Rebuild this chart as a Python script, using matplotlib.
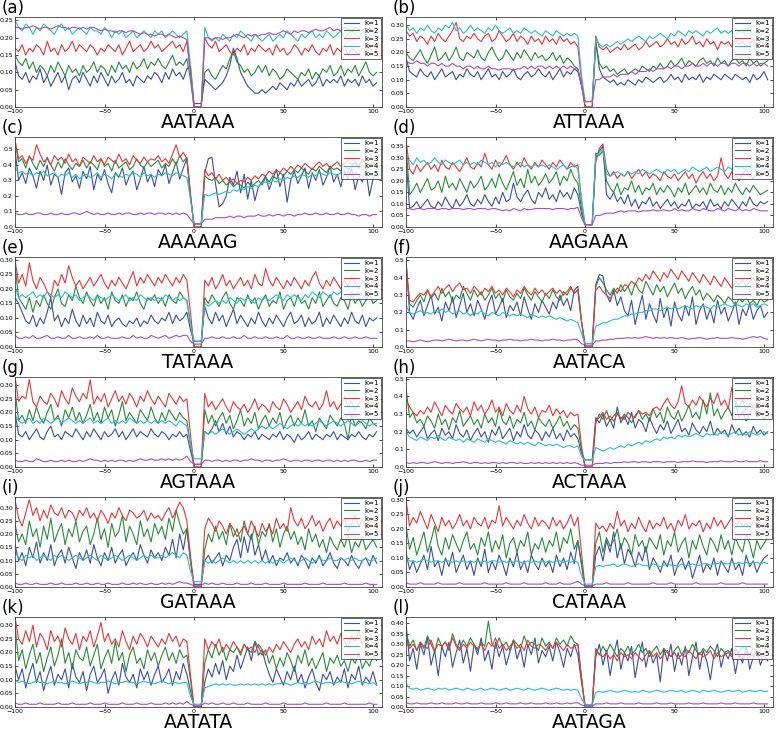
import numpy as np
import matplotlib.pyplot as plt

# values in hundredths, positions -100..102 step 2 (motif starts at 0)
labels = ['(a)', '(b)', '(c)', '(d)', '(e)', '(f)', '(g)', '(h)', '(i)', '(j)', '(k)', '(l)']
motifs = ['AATAAA', 'ATTAAA', 'AAAAAG', 'AAGAAA', 'TATAAA', 'AATACA',
          'AGTAAA', 'ACTAAA', 'GATAAA', 'CATAAA', 'AATATA', 'AATAGA']
ymax = [0.26, 0.33, 0.58, 0.39, 0.31, 0.52, 0.33, 0.51, 0.34, 0.31, 0.33, 0.43]
ystep = [0.05, 0.05, 0.1, 0.05, 0.05, 0.1, 0.05, 0.1, 0.05, 0.05, 0.05, 0.05]
ytop = [0.25, 0.30, 0.5, 0.35, 0.30, 0.5, 0.30, 0.5, 0.30, 0.30, 0.30, 0.40]

a1 = [13, 9, 8, 10, 7, 9, 8, 11, 7, 9, 6, 8, 10, 7, 9, 5, 8, 9, 7, 10,
      8, 6, 9, 7, 10, 8, 6, 9, 7, 8, 10, 7, 8, 6, 9, 8, 7, 9, 8, 10,
      9, 7, 10, 8, 11, 9, 10, 8, 11, 12,
      1, 1, 1, 8, 7, 6, 5, 6, 7, 9, 12, 17, 14, 10, 8, 6, 5, 4, 4, 5,
      4, 5, 6, 5, 7, 6, 5, 7, 6, 8, 6, 7, 8, 6, 7, 9, 6, 8, 7, 8,
      7, 9, 6, 8, 7, 8, 6, 9, 7, 8, 6, 7]
a2 = [15, 13, 12, 14, 11, 13, 10, 12, 11, 9, 12, 10, 13, 11, 9, 12, 10, 11, 9, 12,
      10, 11, 13, 10, 12, 11, 9, 12, 10, 13, 11, 12, 10, 13, 11, 12, 14, 11, 13, 12,
      14, 12, 11, 13, 15, 12, 13, 12, 14, 8,
      0, 0, 0, 10, 11, 9, 8, 10, 12, 11, 14, 16, 13, 12, 10, 11, 9, 10, 12, 10,
      12, 9, 11, 10, 8, 9, 11, 10, 9, 8, 10, 9, 11, 8, 10, 9, 11, 10, 12, 9,
      10, 12, 9, 11, 10, 12, 9, 11, 13, 10, 9, 10]
a3 = [17, 16, 18, 15, 17, 16, 18, 17, 15, 19, 16, 17, 15, 18, 16, 17, 19, 16, 18, 17,
      16, 18, 17, 15, 17, 16, 18, 17, 16, 18, 15, 17, 19, 16, 17, 18, 16, 17, 19, 17,
      18, 16, 17, 18, 19, 17, 18, 16, 19, 10,
      0, 0, 0, 20, 18, 17, 19, 16, 17, 18, 16, 15, 17, 16, 18, 15, 17, 16, 18, 17,
      16, 17, 15, 18, 16, 17, 15, 16, 18, 17, 15, 17, 16, 18, 16, 15, 17, 16, 18, 15,
      17, 16, 18, 15, 17, 16, 15, 17, 16, 18, 15, 17]
a4 = [25, 23, 22, 24, 23, 21, 23, 22, 24, 23, 22, 21, 23, 24, 22, 23, 21, 22, 23, 22,
      21, 23, 22, 22, 21, 23, 22, 20, 22, 21, 22, 20, 21, 22, 20, 21, 22, 21, 20, 22,
      21, 22, 20, 21, 22, 21, 20, 21, 22, 12,
      0, 0, 0, 23, 20, 19, 20, 19, 21, 20, 19, 21, 20, 22, 21, 20, 19, 21, 20, 19,
      20, 21, 19, 20, 21, 20, 22, 21, 20, 19, 21, 20, 21, 22, 20, 21, 20, 22, 21, 20,
      21, 22, 20, 21, 22, 21, 20, 22, 21, 20, 21, 22]
a5 = [23, 23, 22.5, 23, 23, 23.5, 23, 22.5, 23, 23, 22.5, 23, 23.5, 23, 23, 22.5, 23, 23, 22.5, 23,
      22.5, 23, 23, 22.5, 22, 22.5, 22, 22, 21.5, 22, 22, 21.5, 22, 22, 21.5, 21, 21.5, 21, 21, 20.5,
      21, 21, 20.5, 21, 20.5, 20, 20.5, 20, 19.5, 10,
      0, 0, 0, 20, 20, 19.5, 20, 20, 19.5, 20, 20, 20.5, 21, 20.5, 20, 21, 20.5, 21, 20.5, 21,
      21, 21.5, 21, 21, 21.5, 22, 21.5, 21, 22, 21.5, 22, 22, 21.5, 22, 22.5, 22, 22, 22.5, 23, 22,
      22.5, 22, 23, 22.5, 22, 23, 22.5, 22, 23, 22.5, 22, 23]

b1 = [18, 13, 12, 11, 14, 12, 11, 13, 10, 12, 14, 11, 12, 13, 10, 12, 11, 14, 12, 11,
      13, 10, 12, 14, 11, 12, 10, 13, 11, 12, 14, 11, 10, 12, 13, 11, 12, 14, 12, 11,
      13, 10, 12, 14, 11, 13, 12, 14, 13, 8,
      2, 2, 2, 24, 14, 11, 10, 9, 10, 8, 9, 8, 10, 9, 8, 10, 9, 11, 10, 9,
      10, 11, 9, 10, 12, 10, 11, 9, 12, 10, 11, 10, 12, 9, 11, 10, 12, 11, 10, 12,
      11, 10, 12, 11, 10, 11, 9, 12, 10, 11, 13, 10]
b2 = [20, 18, 17, 19, 21, 18, 16, 19, 22, 17, 18, 20, 17, 19, 22, 18, 17, 20, 19, 18,
      21, 18, 17, 20, 22, 19, 17, 18, 21, 19, 17, 20, 18, 21, 19, 17, 20, 18, 19, 17,
      18, 20, 17, 19, 16, 18, 17, 15, 14, 8,
      0, 0, 0, 24, 16, 14, 15, 13, 14, 12, 13, 14, 12, 13, 14, 13, 15, 14, 13, 15,
      14, 16, 14, 15, 17, 15, 16, 18, 15, 17, 16, 15, 17, 18, 16, 17, 15, 18, 16, 17,
      15, 17, 18, 16, 17, 15, 18, 16, 17, 15, 16, 17]
b3 = [28, 26, 27, 24, 26, 25, 23, 26, 24, 27, 25, 24, 26, 28, 31, 25, 24, 26, 25, 27,
      25, 24, 26, 27, 24, 25, 28, 26, 24, 25, 27, 24, 26, 25, 23, 26, 24, 25, 23, 26,
      24, 25, 23, 26, 24, 25, 23, 24, 22, 10,
      0, 0, 0, 26, 22, 21, 22, 20, 21, 22, 21, 23, 21, 22, 23, 21, 22, 24, 22, 23,
      24, 22, 23, 25, 23, 24, 22, 25, 23, 24, 26, 23, 24, 22, 25, 23, 24, 21, 24, 23,
      24, 22, 25, 23, 24, 22, 23, 25, 22, 24, 23, 24]
b4 = [30, 28, 29, 27, 29, 28, 30, 28, 27, 29, 28, 30, 29, 31, 28, 29, 27, 28, 30, 28,
      29, 28, 27, 29, 28, 30, 28, 27, 28, 29, 27, 28, 27, 29, 28, 27, 28, 27, 26, 28,
      27, 26, 28, 27, 26, 27, 26, 27, 26, 12,
      2, 2, 2, 25, 23, 22, 23, 22, 23, 24, 23, 24, 25, 24, 25, 26, 25, 24, 26, 25,
      26, 27, 26, 25, 27, 26, 28, 27, 26, 28, 27, 28, 27, 26, 28, 27, 28, 29, 27, 28,
      27, 28, 26, 28, 27, 29, 28, 27, 28, 26, 28, 27]
b5 = [17, 16, 16, 17, 16, 16, 15, 16, 16, 15, 16, 15, 15, 16, 15, 15, 14, 15, 15, 14,
      15, 14, 14, 15, 14, 14, 13.5, 14, 14, 14, 13.5, 14, 14, 15, 14, 15, 14, 15, 15, 14,
      15, 14, 15, 14, 15, 14, 15, 14, 14, 8,
      2, 2, 2, 10, 10, 11, 11, 11, 12, 11, 12, 12, 12, 13, 12, 13, 13, 13, 14, 13,
      14, 14, 14, 15, 14, 15, 15, 14, 15, 15, 16, 15, 15, 16, 15, 16, 16, 15, 16, 16,
      15, 16, 16, 15, 16, 16, 15, 16, 15, 16, 16, 15]

c1 = [50, 30, 35, 28, 38, 33, 25, 36, 30, 40, 27, 34, 32, 21, 35, 38, 29, 33, 25, 36,
      31, 39, 24, 34, 30, 37, 28, 22, 35, 32, 38, 27, 33, 36, 24, 31, 39, 29, 34, 26,
      37, 33, 40, 28, 35, 42, 31, 38, 44, 20,
      2, 2, 2, 35, 44, 45, 28, 13, 15, 20, 32, 27, 36, 22, 34, 18, 30, 17, 26, 29,
      33, 24, 31, 37, 26, 34, 16, 30, 36, 28, 33, 38, 25, 35, 30, 37, 27, 32, 39, 29,
      34, 26, 36, 31, 38, 24, 33, 29, 37, 20, 31, 35]
c2 = [55, 42, 44, 38, 46, 41, 37, 43, 39, 45, 40, 36, 42, 38, 44, 40, 37, 41, 39, 43,
      38, 42, 40, 37, 44, 39, 41, 36, 43, 38, 40, 42, 37, 39, 44, 40, 38, 42, 39, 41,
      43, 38, 41, 39, 44, 40, 46, 42, 45, 20,
      0, 0, 0, 33, 31, 30, 32, 28, 30, 27, 29, 26, 28, 27, 25, 29, 26, 28, 30, 27,
      32, 29, 33, 31, 35, 33, 36, 34, 37, 35, 38, 36, 34, 38, 36, 39, 37, 35, 39, 37,
      38, 36, 40, 37, 39, 41, 38, 40, 37, 39, 41, 38]
c3 = [56, 44, 46, 41, 45, 43, 53, 47, 42, 44, 40, 46, 43, 45, 41, 47, 42, 44, 39, 45,
      43, 41, 46, 42, 44, 40, 45, 43, 41, 47, 42, 44, 40, 46, 43, 41, 45, 42, 44, 43,
      46, 42, 44, 41, 47, 53, 45, 48, 44, 22,
      0, 0, 0, 37, 33, 35, 31, 34, 30, 32, 29, 31, 28, 30, 29, 32, 30, 33, 31, 34,
      33, 36, 34, 37, 35, 38, 36, 39, 37, 40, 38, 41, 39, 37, 40, 42, 39, 41, 38, 40,
      42, 39, 41, 43, 40, 42, 39, 44, 41, 40, 42, 39]
c4 = [38, 35, 36, 34, 35, 33, 35, 34, 36, 33, 34, 35, 32, 34, 33, 35, 32, 34, 31, 33,
      34, 32, 33, 35, 32, 34, 33, 31, 34, 33, 32, 34, 33, 35, 34, 32, 35, 33, 34, 32,
      34, 33, 35, 34, 33, 35, 34, 33, 32, 18,
      2, 2, 2, 21, 20, 21, 22, 21, 22, 23, 22, 24, 23, 25, 24, 26, 25, 27, 26, 28,
      29, 28, 30, 29, 31, 30, 32, 31, 33, 32, 34, 33, 32, 34, 33, 35, 34, 33, 35, 34,
      33, 35, 34, 36, 33, 35, 34, 33, 35, 34, 33, 34]
c5 = [9, 8, 8, 9, 8, 8, 9, 9, 8, 8, 9, 8, 8, 9, 8, 8, 9, 9, 8, 9,
      10, 9, 8, 9, 8, 8, 9, 8, 8, 9, 8, 9, 9, 8, 8, 9, 8, 9, 9, 8,
      9, 9, 8, 9, 8, 9, 8, 9, 8, 5,
      2, 2, 2, 5, 5, 5, 6, 6, 6, 6, 7, 6, 7, 7, 6, 7, 7, 7, 8, 7,
      7, 8, 7, 8, 8, 7, 8, 8, 7, 8, 8, 9, 8, 8, 9, 8, 8, 9, 8, 8,
      9, 8, 8, 9, 8, 8, 7, 8, 8, 7, 8, 8]

d1 = [30, 8, 9, 11, 8, 10, 12, 9, 8, 11, 9, 13, 10, 8, 12, 9, 11, 14, 10, 9,
      12, 10, 14, 11, 9, 13, 10, 15, 11, 12, 19, 13, 11, 14, 16, 12, 10, 15, 13, 17,
      12, 14, 11, 16, 13, 15, 12, 17, 14, 6,
      1, 1, 1, 30, 33, 35, 14, 12, 15, 11, 13, 10, 14, 9, 12, 8, 11, 10, 13, 9,
      11, 8, 10, 12, 9, 11, 8, 10, 9, 12, 8, 10, 9, 11, 8, 12, 9, 10, 8, 11,
      9, 12, 10, 8, 11, 9, 13, 10, 9, 11, 10, 11]
d2 = [36, 14, 16, 19, 15, 18, 21, 16, 17, 20, 15, 22, 17, 19, 16, 21, 18, 15, 20, 17,
      19, 22, 16, 18, 21, 17, 23, 19, 16, 20, 24, 18, 21, 17, 25, 19, 22, 18, 20, 23,
      19, 21, 24, 18, 22, 20, 25, 21, 19, 8,
      1, 1, 1, 32, 31, 33, 20, 17, 15, 19, 14, 17, 16, 20, 15, 18, 14, 17, 16, 19,
      14, 17, 15, 18, 16, 13, 17, 15, 19, 14, 16, 18, 15, 17, 14, 19, 16, 15, 18, 14,
      17, 15, 19, 16, 14, 17, 15, 18, 16, 14, 15, 16]
d3 = [38, 25, 23, 27, 24, 26, 28, 25, 27, 24, 29, 26, 25, 28, 26, 24, 27, 30, 26, 25,
      28, 26, 32, 27, 25, 29, 26, 28, 31, 27, 25, 28, 26, 30, 27, 25, 28, 26, 29, 27,
      25, 28, 26, 29, 27, 25, 28, 26, 27, 12,
      1, 1, 1, 28, 34, 36, 25, 22, 24, 21, 23, 22, 24, 21, 23, 25, 22, 24, 21, 23,
      22, 20, 24, 22, 21, 23, 20, 22, 24, 21, 23, 19, 22, 24, 21, 23, 20, 22, 30, 23,
      21, 24, 22, 20, 23, 25, 22, 21, 23, 22, 24, 22]
d4 = [28, 29, 27, 30, 28, 29, 27, 28, 30, 28, 27, 29, 28, 27, 28, 29, 27, 28, 27, 28,
      27, 29, 28, 27, 28, 26, 28, 27, 28, 27, 26, 27, 28, 26, 27, 26, 27, 26, 27, 26,
      27, 26, 25, 26, 27, 25, 26, 27, 25, 12,
      1, 1, 1, 31, 32, 34, 23, 22, 23, 24, 23, 22, 24, 23, 24, 23, 25, 24, 23, 24,
      25, 24, 23, 25, 24, 25, 23, 24, 25, 24, 26, 25, 24, 25, 26, 24, 25, 26, 25, 24,
      26, 25, 27, 25, 26, 24, 26, 25, 27, 26, 25, 26]
d5 = [8, 8, 7.5, 8, 8, 7.5, 8, 8, 8, 7.5, 8, 8, 7.5, 8, 8, 8, 7.5, 8, 8, 7.5,
      8, 8, 8, 7.5, 8, 8, 7.5, 7, 7.5, 7, 8, 7.5, 7, 8, 7.5, 7.5, 8, 8, 8, 8,
      8, 7.5, 8, 8, 8, 7.5, 8, 8, 8.5, 4,
      1, 1, 1, 5, 5, 5.5, 6, 6, 6, 6.5, 7, 6.5, 7, 7, 7, 6.5, 7, 7, 7, 7.5,
      7, 7, 7.5, 7, 7, 8, 7, 7.5, 7, 7, 8, 7.5, 7, 8, 7.5, 7, 7, 8, 7.5, 7,
      8, 7.5, 7, 8, 7, 7.5, 7, 8, 7.5, 7, 7, 7]

e1 = [17, 15, 12, 9, 8, 11, 7, 10, 8, 12, 17, 9, 11, 7, 10, 8, 13, 9, 7, 11,
      8, 10, 7, 12, 9, 8, 11, 7, 9, 10, 8, 7, 9, 8, 10, 7, 9, 8, 11, 9,
      8, 10, 9, 12, 8, 11, 9, 10, 12, 6,
      2, 2, 2, 14, 10, 8, 12, 9, 11, 7, 10, 13, 8, 11, 9, 7, 10, 8, 12, 9,
      7, 10, 8, 11, 9, 7, 10, 12, 8, 9, 11, 7, 10, 8, 9, 12, 7, 10, 8, 11,
      9, 7, 10, 8, 12, 9, 8, 11, 7, 10, 9, 10]
e2 = [28, 17, 15, 13, 17, 12, 16, 14, 18, 15, 13, 17, 20, 15, 14, 18, 16, 21, 17, 15,
      19, 16, 14, 18, 15, 17, 13, 19, 16, 15, 18, 14, 17, 16, 19, 15, 13, 17, 16, 18,
      15, 17, 14, 18, 16, 15, 19, 17, 16, 8,
      0, 0, 0, 17, 15, 18, 16, 14, 17, 19, 15, 13, 17, 16, 14, 18, 15, 17, 13, 16,
      18, 14, 16, 15, 19, 13, 16, 17, 14, 18, 15, 16, 13, 17, 15, 19, 14, 16, 18, 15,
      14, 17, 16, 13, 18, 15, 17, 14, 16, 18, 15, 16]
e3 = [30, 22, 25, 21, 29, 23, 20, 24, 22, 19, 17, 23, 21, 25, 22, 28, 24, 21, 23, 20,
      22, 24, 21, 23, 25, 22, 20, 23, 21, 24, 22, 20, 23, 26, 21, 24, 22, 25, 23, 21,
      24, 22, 25, 23, 21, 24, 22, 25, 23, 12,
      0, 0, 0, 23, 21, 24, 20, 22, 25, 21, 23, 20, 22, 24, 21, 23, 20, 25, 22, 21,
      27, 23, 21, 24, 22, 20, 23, 21, 24, 22, 20, 23, 21, 24, 26, 22, 20, 23, 21, 24,
      22, 20, 23, 21, 24, 22, 20, 23, 21, 22, 23, 21]
e4 = [21, 17, 18, 17, 18, 19, 17, 18, 17, 19, 18, 17, 18, 17, 19, 18, 17, 18, 16, 17,
      18, 17, 16, 18, 17, 16, 17, 18, 17, 16, 17, 18, 16, 17, 16, 18, 17, 16, 17, 16,
      17, 16, 18, 17, 16, 17, 16, 17, 16, 8,
      2, 2, 2, 15, 14, 15, 16, 15, 16, 15, 17, 16, 15, 17, 16, 17, 16, 15, 17, 16,
      17, 16, 17, 18, 17, 16, 18, 17, 18, 17, 16, 18, 17, 19, 18, 17, 19, 18, 17, 19,
      18, 19, 18, 17, 19, 18, 19, 18, 17, 19, 18, 19]
e5 = [4, 3, 3, 3.5, 3, 4, 3, 3, 3.5, 4, 3, 3, 3.5, 3, 3, 4, 3, 3, 3.5, 3,
      3, 3.5, 3, 4, 3, 3, 3.5, 3, 3, 3, 3.5, 3, 3, 4, 3, 3.5, 3, 3, 4, 3.5,
      3, 3.5, 4, 3, 3.5, 4, 3.5, 4, 4, 2,
      1, 1, 1, 3, 3, 3.5, 3, 3, 3.5, 3, 3, 3.5, 3, 3, 4, 3, 3, 3.5, 3, 3,
      3.5, 3, 3, 3.5, 3, 3, 4, 3, 3, 3.5, 3, 3, 3.5, 3, 3, 3.5, 3, 3, 3, 3.5,
      3, 3, 3.5, 3, 3, 3.5, 3, 3, 3.5, 3, 3, 3]

f1 = [50, 20, 16, 22, 27, 18, 24, 30, 19, 23, 15, 26, 21, 29, 17, 24, 31, 20, 25, 18,
      27, 22, 16, 25, 30, 19, 23, 28, 17, 24, 21, 26, 18, 29, 22, 16, 25, 20, 27, 23,
      19, 26, 22, 30, 24, 28, 21, 33, 35, 15,
      2, 2, 2, 36, 42, 41, 30, 26, 33, 24, 29, 21, 18, 27, 13, 22, 30, 16, 25, 19,
      14, 28, 17, 23, 12, 26, 19, 15, 24, 18, 29, 13, 21, 25, 16, 22, 14, 27, 19, 23,
      15, 20, 26, 13, 22, 18, 25, 16, 21, 24, 17, 20]
f2 = [50, 25, 23, 27, 30, 26, 33, 28, 31, 27, 34, 29, 32, 26, 30, 28, 35, 31, 27, 33,
      29, 32, 27, 30, 34, 28, 31, 26, 33, 29, 27, 31, 28, 34, 30, 27, 32, 29, 26, 31,
      28, 33, 29, 27, 32, 30, 34, 31, 33, 15,
      0, 0, 0, 35, 40, 37, 33, 30, 34, 31, 36, 32, 35, 30, 37, 33, 31, 38, 34, 30,
      36, 32, 35, 29, 33, 37, 31, 34, 28, 32, 35, 30, 33, 27, 31, 29, 26, 30, 28, 25,
      29, 27, 24, 28, 26, 29, 25, 27, 24, 28, 26, 27]
f3 = [45, 27, 26, 29, 31, 30, 33, 29, 32, 35, 31, 34, 36, 32, 35, 37, 33, 34, 31, 35,
      33, 30, 34, 32, 35, 31, 33, 30, 34, 32, 29, 33, 31, 35, 32, 30, 34, 31, 33, 30,
      32, 34, 31, 33, 30, 32, 35, 31, 33, 15,
      0, 0, 0, 33, 35, 32, 30, 28, 31, 34, 32, 36, 35, 38, 36, 40, 38, 42, 39, 44,
      41, 38, 43, 40, 45, 42, 39, 44, 41, 38, 43, 40, 37, 42, 39, 36, 41, 38, 35, 40,
      37, 34, 38, 36, 39, 35, 38, 40, 36, 39, 37, 38]
f4 = [24, 20, 19, 20, 21, 19, 20, 19, 21, 20, 22, 20, 21, 19, 20, 21, 19, 20, 18, 20,
      19, 21, 19, 18, 20, 19, 18, 20, 19, 18, 19, 18, 19, 18, 17, 19, 18, 17, 18, 17,
      18, 17, 16, 17, 16, 15, 16, 15, 14, 8,
      2, 2, 2, 12, 13, 14, 14, 15, 16, 16, 17, 18, 18, 19, 19, 20, 20, 21, 21, 22,
      22, 21, 22, 23, 22, 23, 22, 23, 24, 23, 22, 24, 23, 24, 23, 22, 24, 23, 24, 25,
      24, 23, 25, 24, 23, 25, 24, 25, 23, 24, 25, 24]
f5 = [3.5, 3.5, 3, 3.5, 4, 3.5, 3, 3.5, 4, 4, 3.5, 4, 4.5, 4, 3.5, 4, 4, 3.5, 4, 4.5,
      4, 3.5, 4, 4.5, 4, 4, 3.5, 4, 4, 4.5, 4, 4, 3.5, 4, 4, 4.5, 4, 4, 3.5, 4,
      4, 4.5, 4, 4, 3.5, 4, 4, 4.5, 4, 2,
      1, 1, 1, 3.5, 3.5, 4, 4, 4.5, 4.5, 5, 5, 5, 5.5, 5, 5.5, 5, 5.5, 6, 5.5, 5,
      5.5, 5, 5.5, 5, 5.5, 5, 5, 5.5, 5, 4.5, 5, 5, 5.5, 5, 4.5, 5, 5, 5.5, 5, 5,
      5, 5.5, 5, 5, 4.5, 5, 5.5, 6, 5.5, 6, 5, 4.5]

g1 = [20, 12, 11, 13, 10, 12, 14, 11, 10, 13, 15, 11, 12, 10, 13, 12, 11, 14, 12, 10,
      13, 11, 14, 12, 10, 13, 11, 12, 14, 11, 13, 10, 12, 14, 11, 13, 12, 11, 14, 12,
      11, 13, 12, 10, 12, 11, 13, 11, 12, 6,
      1, 1, 1, 13, 12, 14, 17, 13, 16, 12, 15, 11, 13, 12, 10, 12, 11, 13, 10, 12,
      11, 10, 12, 11, 13, 10, 12, 11, 9, 12, 10, 11, 13, 10, 12, 11, 10, 12, 11, 13,
      10, 12, 11, 10, 12, 11, 13, 11, 10, 12, 11, 13]
g2 = [28, 17, 19, 16, 21, 17, 22, 18, 16, 20, 23, 17, 19, 15, 21, 18, 22, 17, 20, 16,
      19, 23, 17, 20, 16, 22, 18, 21, 15, 19, 24, 17, 20, 18, 16, 21, 19, 17, 22, 18,
      16, 20, 17, 21, 19, 17, 20, 18, 17, 8,
      0, 0, 0, 21, 16, 19, 15, 18, 20, 16, 19, 14, 17, 21, 15, 18, 16, 20, 14, 17,
      19, 15, 18, 16, 20, 14, 17, 19, 15, 18, 16, 21, 15, 17, 13, 18, 16, 14, 19, 17,
      15, 18, 16, 10, 19, 15, 17, 16, 14, 18, 16, 15]
g3 = [33, 24, 26, 25, 32, 24, 22, 26, 24, 23, 27, 25, 22, 28, 25, 23, 29, 26, 24, 27,
      25, 32, 23, 26, 24, 27, 22, 25, 28, 24, 26, 23, 27, 25, 22, 26, 24, 28, 25, 23,
      26, 24, 22, 27, 25, 23, 26, 24, 25, 12,
      0, 0, 0, 27, 22, 24, 21, 23, 25, 22, 20, 24, 22, 21, 23, 20, 22, 25, 21, 23,
      22, 20, 24, 22, 21, 25, 23, 20, 22, 24, 21, 26, 23, 22, 24, 21, 23, 28, 22, 24,
      21, 23, 26, 22, 24, 21, 23, 25, 22, 24, 23, 22]
g4 = [19, 17, 16, 17, 18, 16, 17, 16, 18, 17, 16, 17, 18, 16, 17, 18, 17, 16, 17, 16,
      17, 18, 16, 17, 16, 17, 18, 16, 17, 16, 17, 16, 18, 17, 16, 17, 16, 17, 16, 17,
      16, 17, 16, 17, 16, 15, 17, 16, 15, 8,
      3, 3, 3, 13, 12, 13, 12, 13, 14, 13, 12, 13, 14, 13, 12, 13, 14, 13, 14, 15,
      14, 15, 14, 15, 16, 15, 14, 15, 16, 15, 16, 15, 16, 15, 16, 17, 16, 15, 16, 17,
      16, 15, 16, 17, 16, 15, 16, 17, 16, 15, 16, 16]
g5 = [2.5, 2, 2, 2.5, 2, 2, 3, 2.5, 2, 2, 2.5, 2, 2, 2.5, 2, 2.5, 2, 2, 2.5, 2,
      2.5, 3, 2.5, 2.5, 2, 2.5, 2, 2.5, 2, 2.5, 2.5, 2, 2.5, 2, 2.5, 3, 2.5, 2.5, 3, 2.5,
      2.5, 3, 2.5, 3, 2.5, 3, 2.5, 3, 4, 2,
      1, 1, 1, 2.5, 2.5, 2, 2.5, 2.5, 2, 2.5, 2, 2.5, 2.5, 2, 2.5, 2.5, 3, 2.5, 2.5, 2,
      2.5, 2.5, 2, 2.5, 2.5, 3, 2.5, 2, 2.5, 2.5, 2, 2.5, 2.5, 2, 2.5, 2.5, 2, 2.5, 2.5, 2,
      2.5, 2, 2.5, 2, 2.5, 2.5, 2, 2, 2.5, 2, 2.5, 2.5]

h1 = [22, 19, 21, 17, 20, 23, 16, 19, 21, 15, 22, 18, 20, 16, 24, 19, 17, 21, 15, 19,
      22, 17, 20, 14, 21, 18, 23, 16, 19, 22, 15, 20, 17, 24, 18, 16, 21, 19, 15, 20,
      17, 22, 16, 19, 15, 21, 17, 19, 16, 8,
      4, 4, 4, 28, 25, 30, 23, 27, 22, 34, 25, 29, 24, 31, 22, 27, 25, 20, 28, 23,
      19, 24, 21, 26, 19, 23, 27, 20, 22, 18, 25, 21, 19, 23, 20, 26, 18, 22, 19, 21,
      17, 24, 19, 22, 18, 20, 17, 23, 19, 21, 18, 20]
h2 = [45, 28, 31, 25, 27, 23, 29, 26, 22, 30, 24, 27, 21, 28, 25, 32, 23, 26, 29, 24,
      27, 22, 30, 25, 28, 23, 33, 26, 24, 29, 22, 27, 25, 31, 23, 26, 21, 28, 25, 23,
      27, 22, 25, 29, 23, 26, 21, 24, 22, 10,
      0, 0, 0, 25, 30, 27, 32, 26, 29, 31, 27, 30, 28, 25, 29, 32, 27, 30, 26, 33,
      28, 31, 25, 34, 29, 27, 32, 26, 30, 35, 28, 31, 27, 38, 30, 42, 29, 33, 27, 31,
      34, 29, 36, 28, 32, 26, 30, 35, 28, 31, 27, 30]
h3 = [38, 34, 31, 29, 32, 30, 34, 31, 37, 33, 29, 35, 32, 30, 36, 33, 31, 34, 29, 37,
      32, 35, 30, 33, 38, 31, 34, 29, 36, 32, 30, 35, 31, 40, 33, 30, 34, 28, 32, 31,
      35, 29, 33, 30, 32, 28, 31, 29, 30, 12,
      0, 0, 0, 26, 28, 31, 27, 29, 26, 30, 28, 27, 31, 29, 28, 32, 30, 31, 29, 33,
      34, 32, 36, 39, 35, 33, 37, 46, 36, 34, 38, 35, 40, 37, 34, 39, 36, 42, 35, 38,
      33, 45, 37, 34, 38, 32, 36, 35, 33, 37, 34, 35]
h4 = [20, 17, 16, 15, 17, 16, 15, 17, 16, 18, 16, 15, 17, 16, 15, 16, 14, 16, 15, 14,
      16, 15, 14, 16, 15, 14, 15, 14, 13, 15, 14, 13, 14, 13, 14, 13, 12, 14, 13, 12,
      13, 12, 13, 12, 11, 12, 12, 11, 12, 6,
      4, 4, 4, 11, 10, 9, 10, 11, 10, 11, 12, 11, 13, 12, 13, 14, 13, 15, 14, 15,
      16, 15, 17, 16, 17, 16, 18, 17, 18, 17, 18, 19, 18, 17, 19, 18, 19, 18, 20, 19,
      18, 19, 20, 18, 19, 18, 20, 19, 18, 19, 20, 19]
h5 = [2.5, 2, 2.5, 2, 2.5, 2.5, 2, 2.5, 3, 2.5, 2, 2.5, 2.5, 2, 2.5, 2.5, 3, 2.5, 2, 2.5,
      2.5, 2, 2.5, 2, 2.5, 2.5, 2, 2.5, 2, 2.5, 2.5, 2, 2.5, 2, 2, 2.5, 2, 2.5, 2, 2.5,
      2, 2.5, 2, 2.5, 2, 2.5, 2, 2.5, 2, 1,
      1, 1, 1, 2, 2, 2, 2.5, 2, 2.5, 2.5, 2.5, 3, 2.5, 3, 3, 2.5, 3, 3, 2.5, 3,
      3, 3, 2.5, 3, 3, 3, 2.5, 3, 3, 3, 3.5, 3, 3, 3, 2.5, 3, 3, 3, 3.5, 3,
      3, 3, 3.5, 3, 3, 3.5, 3, 3, 3, 3.5, 3, 3]

i1 = [16, 10, 13, 8, 15, 11, 17, 9, 13, 10, 16, 8, 12, 14, 9, 15, 11, 7, 13, 10,
      14, 9, 16, 11, 8, 13, 10, 15, 9, 12, 14, 8, 11, 13, 10, 16, 12, 9, 14, 11,
      13, 10, 15, 12, 18, 11, 20, 14, 22, 10,
      1, 1, 1, 10, 12, 9, 11, 13, 8, 12, 10, 15, 18, 11, 19, 13, 20, 12, 16, 10,
      14, 9, 12, 8, 11, 10, 13, 9, 11, 8, 12, 10, 7, 11, 9, 12, 8, 10, 13, 9,
      7, 11, 10, 8, 12, 9, 7, 10, 11, 8, 12, 9]
i2 = [24, 17, 20, 16, 25, 19, 22, 15, 23, 18, 26, 17, 21, 24, 16, 22, 19, 25, 17, 21,
      23, 16, 20, 26, 18, 22, 15, 24, 19, 21, 27, 17, 23, 20, 16, 25, 19, 22, 17, 24,
      20, 23, 18, 26, 21, 29, 24, 20, 22, 10,
      0, 0, 0, 14, 20, 17, 23, 18, 21, 16, 24, 19, 22, 17, 25, 20, 18, 23, 16, 21,
      19, 24, 17, 22, 15, 20, 23, 18, 21, 16, 19, 14, 22, 17, 20, 15, 18, 13, 19, 16,
      14, 18, 15, 20, 13, 17, 15, 19, 14, 16, 18, 15]
i3 = [33, 26, 23, 28, 33, 27, 30, 25, 29, 26, 31, 28, 27, 30, 26, 29, 28, 25, 29, 27,
      30, 26, 28, 25, 29, 27, 24, 28, 26, 30, 27, 25, 29, 28, 26, 27, 29, 25, 28, 26,
      27, 25, 28, 30, 26, 29, 32, 30, 25, 12,
      0, 0, 0, 22, 26, 24, 21, 25, 23, 20, 24, 22, 19, 21, 23, 20, 25, 22, 19, 24,
      21, 23, 20, 26, 22, 24, 21, 30, 25, 23, 26, 22, 24, 27, 23, 25, 21, 24, 26, 22,
      25, 23, 26, 21, 24, 27, 23, 25, 22, 24, 26, 23]
i4 = [13, 11, 10, 12, 11, 12, 10, 11, 12, 11, 10, 12, 11, 12, 11, 10, 11, 12, 11, 10,
      11, 12, 11, 10, 12, 11, 10, 11, 12, 11, 10, 11, 12, 11, 10, 11, 12, 11, 12, 11,
      11, 12, 11, 12, 13, 12, 11, 13, 12, 6,
      2, 2, 2, 10, 9, 10, 9, 10, 11, 10, 9, 10, 9, 10, 9, 10, 9, 10, 9, 10,
      9, 10, 9, 10, 10, 9, 10, 11, 10, 9, 10, 11, 10, 9, 10, 11, 10, 10, 11, 10,
      10, 11, 10, 11, 10, 11, 10, 10, 11, 10, 10, 11]
i5 = [1.5, 1, 1, 1.5, 1, 1, 1.5, 1, 1, 1, 1.5, 1, 1, 1.5, 1, 1, 1, 1.5, 1, 1,
      1.5, 1, 1, 1.5, 1, 1, 1.5, 1, 1, 1, 1.5, 1, 1, 1.5, 1, 1.5, 1, 1, 1.5, 1,
      1, 1.5, 1, 1.5, 1, 1.5, 2, 1.5, 1.5, 1,
      0.5, 0.5, 0.5, 1.5, 1, 1.5, 1, 1, 1.5, 1, 1, 1, 1.5, 1, 1, 1, 1.5, 1, 1, 1,
      1.5, 1, 1, 1, 1, 1.5, 1, 1, 1, 1, 1, 1.5, 1, 1, 1, 1, 1.5, 1, 1, 1,
      1, 1, 1.5, 1, 1, 1, 1, 1, 1.5, 1, 1, 1]

j1 = [12, 6, 9, 5, 8, 11, 6, 14, 7, 9, 4, 10, 7, 12, 5, 8, 11, 6, 9, 4,
      10, 7, 13, 5, 9, 6, 11, 8, 4, 10, 7, 12, 6, 9, 5, 11, 8, 6, 10, 7,
      9, 5, 11, 7, 10, 6, 12, 8, 16, 8,
      0, 0, 0, 11, 14, 9, 16, 12, 19, 10, 15, 8, 13, 11, 7, 12, 9, 14, 6, 10,
      8, 5, 9, 7, 11, 4, 8, 10, 6, 9, 3, 7, 11, 5, 8, 6, 10, 4, 9, 7,
      5, 10, 6, 8, 4, 11, 7, 9, 5, 8, 10, 11]
j2 = [21, 13, 17, 11, 15, 19, 12, 16, 21, 14, 11, 17, 13, 18, 15, 12, 16, 19, 13, 15,
      11, 17, 14, 19, 12, 16, 13, 18, 10, 15, 17, 12, 16, 14, 19, 11, 15, 13, 17, 12,
      16, 14, 19, 12, 17, 15, 20, 13, 16, 8,
      0, 0, 0, 15, 19, 12, 17, 14, 16, 20, 13, 17, 15, 11, 18, 14, 16, 12, 17, 15,
      13, 18, 11, 16, 14, 19, 12, 15, 17, 10, 16, 13, 18, 14, 11, 17, 15, 12, 18, 13,
      16, 11, 17, 14, 12, 18, 15, 10, 16, 13, 15, 17]
j3 = [30, 21, 24, 22, 26, 23, 20, 25, 22, 19, 24, 21, 23, 20, 22, 25, 21, 23, 20, 24,
      22, 21, 24, 20, 23, 22, 28, 21, 24, 22, 20, 23, 21, 25, 22, 20, 24, 21, 23, 22,
      20, 24, 21, 23, 20, 22, 25, 21, 24, 12,
      0, 0, 0, 22, 20, 21, 19, 22, 20, 26, 21, 23, 19, 22, 20, 24, 21, 19, 23, 20,
      22, 21, 24, 20, 22, 19, 23, 21, 25, 20, 22, 21, 23, 19, 22, 20, 24, 21, 23, 20,
      22, 24, 20, 23, 21, 22, 20, 23, 21, 22, 20, 22]
j4 = [10, 9, 9, 8.5, 9, 9.5, 9, 8.5, 9, 9, 8.5, 9, 9, 8.5, 9, 8.5, 9, 8.5, 9, 8.5,
      9, 8.5, 9, 8.5, 9, 9, 8.5, 9, 8.5, 9, 8.5, 9, 8.5, 8.5, 9, 8.5, 9, 8.5, 9, 8.5,
      9, 8.5, 9, 9, 8.5, 9, 8.5, 9, 8.5, 4,
      1, 1, 1, 7, 7.5, 7, 7.5, 7.5, 8, 7, 7.5, 8, 7.5, 7, 7.5, 8, 7.5, 7.5, 7, 8,
      7.5, 7, 7.5, 8, 7.5, 7.5, 7, 8, 7.5, 7.5, 8, 7.5, 7.5, 8, 8, 7.5, 8, 8, 8.5, 8,
      8, 8.5, 8, 8.5, 8, 8.5, 8, 8.5, 8.5, 8, 8.5, 8]
j5 = [1.5, 1, 1, 1, 1.5, 1, 1, 1, 1, 1.5, 1, 1, 1, 1, 1, 1.5, 1, 1, 1, 1,
      1, 1, 1.5, 1, 1, 1, 1, 1, 1.5, 1, 1, 1, 1, 1.5, 1, 1, 1, 1, 1, 1.5,
      1, 1, 1, 1.5, 1, 1, 1, 1.5, 2, 1,
      0.5, 0.5, 0.5, 1, 1, 1, 1.5, 1, 1, 1, 1, 1, 1.5, 1, 1, 1, 1, 1, 1, 1.5,
      1, 1, 1, 1, 1.5, 1, 1, 1, 1, 1, 1, 1.5, 1, 1, 1, 1, 1, 1, 1.5, 1,
      1, 1, 1, 1, 1.5, 1, 1, 1, 1, 1, 1, 1]

k1 = [15, 10, 14, 7, 12, 16, 9, 13, 6, 11, 15, 8, 12, 10, 14, 7, 16, 11, 9, 13,
      6, 12, 15, 9, 11, 14, 5, 10, 13, 8, 16, 11, 9, 12, 7, 14, 10, 13, 8, 12,
      15, 9, 11, 14, 8, 13, 10, 16, 12, 6,
      0, 0, 0, 9, 14, 11, 16, 12, 17, 10, 15, 13, 19, 14, 18, 22, 17, 24, 19, 21,
      16, 12, 9, 14, 11, 8, 13, 10, 15, 9, 12, 7, 11, 14, 9, 6, 12, 10, 13, 8,
      11, 9, 14, 7, 12, 10, 15, 8, 11, 9, 13, 8]
k2 = [30, 17, 21, 14, 19, 23, 16, 20, 13, 18, 22, 15, 19, 25, 16, 20, 14, 21, 18, 17,
      22, 15, 19, 23, 14, 18, 21, 16, 24, 17, 20, 13, 19, 22, 16, 18, 14, 21, 17, 20,
      15, 19, 22, 17, 20, 16, 21, 18, 19, 10,
      0, 0, 0, 16, 21, 18, 23, 19, 22, 17, 21, 20, 22, 19, 23, 21, 20, 24, 22, 19,
      21, 16, 19, 14, 18, 15, 20, 17, 13, 19, 16, 21, 15, 18, 14, 17, 20, 13, 18, 16,
      19, 15, 17, 13, 18, 16, 20, 14, 17, 15, 19, 17]
k3 = [33, 25, 23, 28, 24, 30, 22, 27, 25, 21, 28, 24, 26, 22, 29, 25, 23, 27, 21, 26,
      24, 28, 22, 26, 31, 24, 27, 23, 25, 22, 28, 24, 21, 26, 23, 27, 25, 22, 26, 24,
      22, 25, 23, 27, 24, 26, 22, 25, 24, 12,
      0, 0, 0, 25, 21, 24, 22, 25, 20, 23, 21, 24, 22, 20, 23, 21, 22, 20, 23, 21,
      19, 22, 20, 23, 21, 24, 22, 20, 23, 25, 22, 24, 21, 26, 23, 25, 22, 28, 24, 26,
      23, 27, 24, 22, 26, 24, 28, 23, 25, 22, 24, 23]
k4 = [10, 9, 9.5, 9, 8.5, 9, 9.5, 9, 9, 8.5, 9, 9.5, 9, 9, 8.5, 9, 9.5, 9, 8.5, 9,
      9, 9.5, 9, 8.5, 9, 9, 9.5, 9, 8.5, 9, 9, 9.5, 9, 9, 8.5, 9, 9.5, 9, 9, 8.5,
      9, 9.5, 9, 8.5, 9, 9, 8.5, 9, 9, 4,
      1, 1, 1, 7, 7.5, 8, 8.5, 8, 8.5, 8, 8.5, 8, 8, 8.5, 8, 8.5, 8, 8.5, 8, 8.5,
      8, 8.5, 8, 8.5, 8.5, 9, 8.5, 8, 8.5, 9, 8.5, 9, 8.5, 9, 9.5, 9, 8.5, 9, 9, 8.5,
      9, 9.5, 9, 9, 8.5, 9, 9.5, 9, 9, 8.5, 9, 8]
k5 = [1.5, 1, 1, 1.5, 1, 1, 1, 1.5, 1, 1, 1, 1, 1.5, 1, 1, 1, 1.5, 1, 1, 1,
      1, 1.5, 1, 1, 1, 1.5, 1, 1, 1, 1, 1.5, 1, 1, 1, 1.5, 1, 1, 1, 1.5, 1,
      1, 1, 1.5, 1, 1.5, 1, 1.5, 1, 2, 1,
      0.5, 0.5, 0.5, 1.5, 1, 1.5, 1, 1, 1.5, 1, 1, 1.5, 1, 1, 1, 1.5, 1, 1, 1, 1,
      1.5, 1, 1, 1, 1, 1.5, 1, 1, 1, 1, 1, 1.5, 1, 1, 1, 1, 1, 1.5, 1, 1,
      1, 1, 1.5, 1, 1, 1, 1, 1, 1, 1.5, 1, 1]

l1 = [40, 22, 28, 18, 30, 25, 33, 20, 27, 15, 29, 24, 31, 19, 26, 32, 21, 28, 17, 30,
      25, 33, 22, 27, 18, 31, 24, 29, 20, 26, 32, 23, 28, 19, 30, 25, 33, 21, 27, 24,
      29, 22, 31, 26, 19, 28, 24, 30, 25, 12,
      1, 1, 1, 24, 30, 20, 27, 15, 25, 32, 18, 26, 22, 29, 14, 24, 31, 19, 27, 21,
      25, 12, 28, 22, 30, 17, 26, 20, 29, 15, 24, 31, 18, 27, 22, 13, 25, 30, 19, 26,
      23, 28, 16, 25, 21, 29, 18, 24, 27, 20, 25, 22]
l2 = [36, 29, 32, 27, 31, 28, 34, 30, 26, 33, 29, 31, 27, 35, 30, 28, 32, 29, 33, 30,
      27, 31, 29, 41, 30, 28, 33, 29, 31, 27, 32, 30, 28, 34, 29, 31, 30, 27, 33, 29,
      31, 28, 33, 30, 32, 29, 34, 31, 30, 15,
      0, 0, 0, 28, 25, 29, 26, 30, 27, 24, 28, 26, 29, 25, 27, 30, 26, 28, 24, 27,
      29, 25, 28, 26, 24, 27, 29, 25, 28, 26, 30, 27, 25, 28, 26, 29, 27, 24, 28, 26,
      27, 25, 28, 26, 29, 27, 25, 28, 26, 27, 29, 26]
l3 = [32, 28, 30, 27, 31, 29, 28, 32, 27, 30, 29, 31, 28, 33, 29, 27, 30, 28, 31, 29,
      28, 30, 27, 31, 29, 33, 28, 30, 27, 29, 31, 28, 30, 27, 32, 29, 28, 30, 29, 27,
      30, 28, 31, 29, 27, 30, 28, 29, 30, 14,
      0, 0, 0, 27, 25, 24, 26, 23, 25, 22, 26, 24, 25, 23, 26, 24, 22, 25, 27, 24,
      26, 23, 25, 27, 24, 26, 23, 25, 24, 27, 25, 23, 26, 24, 25, 27, 23, 26, 24, 25,
      26, 24, 27, 25, 23, 26, 24, 25, 27, 24, 26, 25]
l4 = [11, 9, 8.5, 9, 8, 8.5, 9, 8.5, 8, 9, 8.5, 9, 8, 8.5, 9, 8.5, 8, 9, 8.5, 8,
      8.5, 9, 8, 8.5, 9, 8.5, 8, 8.5, 9, 8, 8.5, 9, 8.5, 8, 9, 8.5, 8, 8.5, 9, 8.5,
      8, 8.5, 9, 8.5, 8, 8.5, 8, 8.5, 8, 4,
      1, 1, 1, 7, 7.5, 7, 7.5, 8, 7.5, 7, 7.5, 8, 7.5, 7, 7.5, 7, 8, 7.5, 7, 7.5,
      8, 7.5, 7, 7.5, 8, 7.5, 7.5, 8, 7, 7.5, 8, 7.5, 7, 8, 7.5, 7.5, 8, 7.5, 7, 7.5,
      8, 7.5, 7.5, 8, 7, 7.5, 8, 7.5, 7.5, 8, 7.5, 7.5]
l5 = [2, 1.5, 1.5, 2, 1.5, 1.5, 1.5, 2, 1.5, 1.5, 2, 1.5, 1.5, 1.5, 2, 1.5, 1.5, 2, 1.5, 1.5,
      1.5, 2, 1.5, 1.5, 1.5, 2, 1.5, 1.5, 2, 1.5, 1.5, 1.5, 2, 1.5, 1.5, 2, 1.5, 1.5, 1.5, 2,
      1.5, 1.5, 2, 1.5, 1.5, 2, 1.5, 2, 2, 1,
      0.5, 0.5, 0.5, 1.5, 1.5, 1.5, 2, 1.5, 1.5, 1.5, 2, 1.5, 1.5, 1.5, 1.5, 2, 1.5, 1.5, 1.5, 1.5,
      2, 1.5, 1.5, 1.5, 2, 1.5, 1.5, 1.5, 1.5, 2, 1.5, 1.5, 1.5, 2, 1.5, 1.5, 1.5, 1.5, 2, 1.5,
      1.5, 1.5, 2, 1.5, 1.5, 1.5, 1.5, 2, 1.5, 1.5, 1.5, 1.5]

series = [[a1, a2, a3, a4, a5], [b1, b2, b3, b4, b5], [c1, c2, c3, c4, c5],
          [d1, d2, d3, d4, d5], [e1, e2, e3, e4, e5], [f1, f2, f3, f4, f5],
          [g1, g2, g3, g4, g5], [h1, h2, h3, h4, h5], [i1, i2, i3, i4, i5],
          [j1, j2, j3, j4, j5], [k1, k2, k3, k4, k5], [l1, l2, l3, l4, l5]]

colors = ['#3b4fa6', '#2a8a3a', '#e8383a', '#2cc0c0', '#a84fc0']
names = ['k=1', 'k=2', 'k=3', 'k=4', 'k=5']

W, H = 776, 737
fig = plt.figure(figsize=(W / 100, H / 100), dpi=100)

for p in range(12):
    row, col = p // 2, p % 2
    left = 15 if col == 0 else 406
    top = 17 + 120 * row
    ax = fig.add_axes([left / W, 1 - (top + 90) / H, 367 / W, 90 / H])
    for k, ys in enumerate(series[p]):
        y = np.array(ys) / 100.0
        x = -100 + 2 * np.arange(len(y))
        ax.plot(x, y, color=colors[k], lw=0.8, label=names[k])
    ax.set_xlim(-100, 105)
    ax.set_ylim(0, ymax[p])
    ax.set_xticks([-100, -50, 0, 50, 100])
    yt = np.arange(0, ytop[p] + 1e-6, ystep[p])
    ax.set_yticks(yt)
    fmt = '%.1f' if ystep[p] == 0.1 else '%.2f'
    ax.set_yticklabels([fmt % v for v in yt])
    ax.tick_params(labelsize=4.5, direction='in', length=2.5, width=0.5,
                   top=True, right=True, pad=1.5)
    for sp in ax.spines.values():
        sp.set_linewidth(0.6)
        sp.set_color('#444444')
    leg = ax.legend(loc='upper right', fontsize=5, frameon=True, fancybox=False,
                    borderaxespad=0.15, handlelength=2.2, labelspacing=0.25,
                    borderpad=0.3)
    leg.get_frame().set_edgecolor('#222222')
    leg.get_frame().set_linewidth(0.6)
    fig.text((left - 13) / W, 1 - (top - 9) / H, labels[p], fontsize=12,
             ha='left', va='center')
    fig.text((left + 183) / W, 1 - (top + 106) / H, motifs[p], fontsize=13.5,
             ha='center', va='center')

plt.savefig('out.png', dpi=100)
